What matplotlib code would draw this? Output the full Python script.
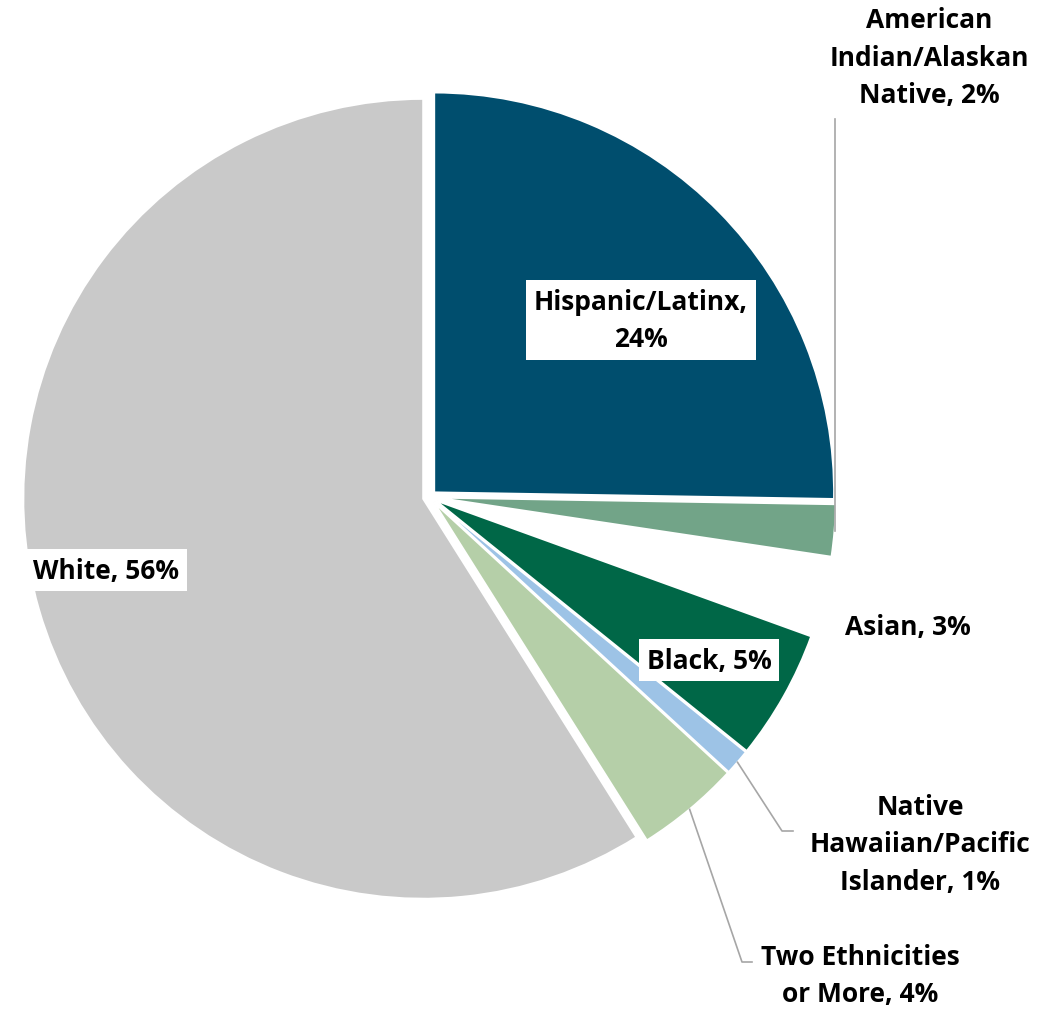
import numpy as np
import matplotlib.pyplot as plt

# shares as labelled (pie normalises them)
groups = ['Hispanic/Latinx', 'American Indian/Alaskan Native', 'Asian', 'Black',
          'Native Hawaiian/Pacific Islander', 'Two Ethnicities or More', 'White']
pct = [24, 2, 3, 5, 1, 4, 56]
colors = ['#004E6E', '#72A488', '#FFFFFF', '#006747', '#9DC3E6', '#B5CFA8', '#C9C9C9']

label_txt = ['Hispanic/Latinx,\n24%', 'American\nIndian/Alaskan\nNative, 2%', 'Asian, 3%',
             'Black, 5%', 'Native\nHawaiian/Pacific\nIslander, 1%', 'Two Ethnicities\nor More, 4%',
             'White, 56%']

W, H = 1058, 1012
fig = plt.figure(figsize=(W / 100, H / 100), dpi=100)
ax = fig.add_axes([0, 0, 1, 1])

cx, cy, R = 429.5, H - 498, 400
# explode is in data units here (pixels)
wedges, _ = ax.pie(pct, colors=colors, startangle=90, counterclock=False,
                   explode=[6.5] * len(pct), center=(cx, cy), radius=R,
                   wedgeprops=dict(edgecolor='white', linewidth=1.5))
ax.set_xlim(0, W)
ax.set_ylim(0, H)
ax.set_aspect('equal')
ax.axis('off')

plt.rcParams['font.family'] = ['Open Sans', 'DejaVu Sans']
fs = 19
lsp = 1.5


def edge_pt(w):
    a = np.deg2rad((w.theta1 + w.theta2) / 2)
    return w.center[0] + w.r * np.cos(a), w.center[1] + w.r * np.sin(a)


def px(x, y):
    return x, H - y


box = dict(boxstyle='square,pad=0.3', fc='white', ec='none')
# labels inside / on the slices
ax.text(*px(641, 321), label_txt[0], ha='center', va='center', fontsize=fs,
        fontweight='bold', linespacing=lsp, bbox=box)
ax.text(*px(106, 571), label_txt[6], ha='center', va='center', fontsize=fs,
        fontweight='bold', bbox=box)
ax.text(*px(709, 661), label_txt[3], ha='center', va='center', fontsize=fs,
        fontweight='bold', bbox=box)
ax.text(*px(908, 627), label_txt[2], ha='center', va='center', fontsize=fs,
        fontweight='bold')
ax.text(*px(929, 58), label_txt[1], ha='center', va='center', fontsize=fs,
        fontweight='bold', linespacing=lsp)
ax.text(*px(920, 845), label_txt[4], ha='center', va='center', fontsize=fs,
        fontweight='bold', linespacing=lsp)
ax.text(*px(860, 976), label_txt[5], ha='center', va='center', fontsize=fs,
        fontweight='bold', linespacing=lsp)

# leader lines
lc = '#A6A6A6'
x0, y0 = edge_pt(wedges[1])
ax.plot([x0, x0], [y0, H - 120], color=lc, lw=1.2)
x0, y0 = edge_pt(wedges[4])
ax.plot([x0, 782, 793], [y0, H - 832, H - 832], color=lc, lw=1.2)
x0, y0 = edge_pt(wedges[5])
ax.plot([x0, 742, 752], [y0, H - 963, H - 963], color=lc, lw=1.2)

fig.savefig('out.png', dpi=100)
